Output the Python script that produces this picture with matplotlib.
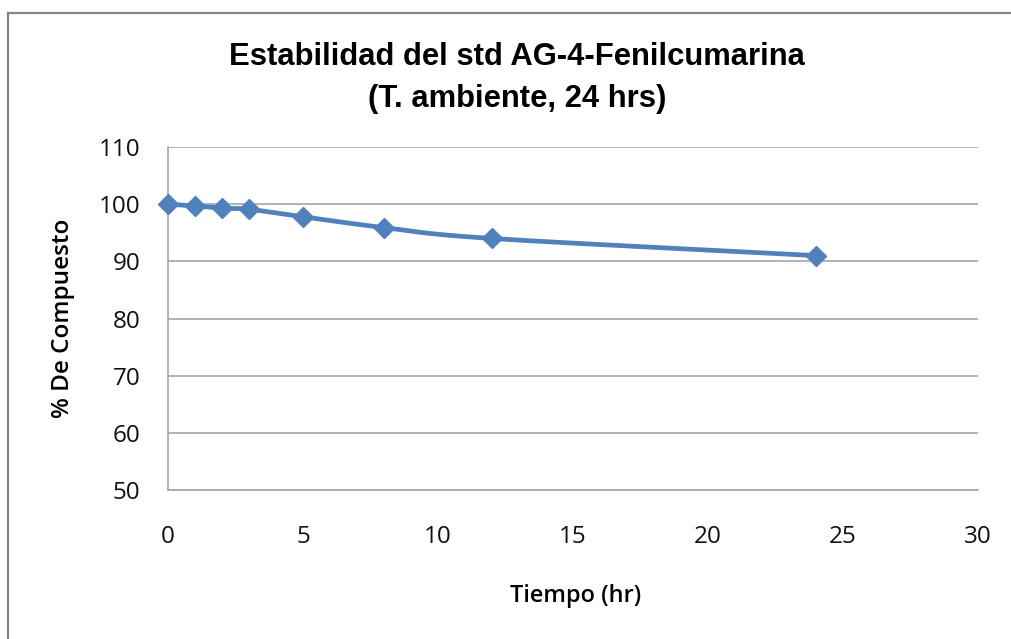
import numpy as np
import matplotlib
matplotlib.use("Agg")
import matplotlib.pyplot as plt
from matplotlib.lines import Line2D

# Stability data: time (hr) vs % compound remaining
tiempo_hr = [0, 1, 2, 3, 5, 8, 12, 24]
compuesto_pct = [100.0, 99.7, 99.3, 99.1, 97.8, 95.9, 94.0, 91.0]

x_ticks = [0, 5, 10, 15, 20, 25, 30]
y_ticks = [50, 60, 70, 80, 90, 100, 110]

titulo = "Estabilidad del std AG-4-Fenilcumarina\n(T. ambiente, 24 hrs)"
etiqueta_x = "Tiempo (hr)"
etiqueta_y = "% De Compuesto"

SERIES_COLOR = "#4F81BD"
GRID_COLOR = "#A6A6A6"
TICK_FONT = "Open Sans"


def smooth_curve(xs, ys, xlim, ylim, n=40):
    """Catmull-Rom smoothing through the points, done in normalised axes space."""
    px = (np.asarray(xs, float) - xlim[0]) / (xlim[1] - xlim[0])
    py = (np.asarray(ys, float) - ylim[0]) / (ylim[1] - ylim[0]) * 0.42
    pts = np.column_stack([px, py])
    ext = np.vstack([2 * pts[0] - pts[1], pts, 2 * pts[-1] - pts[-2]])
    out = []
    for i in range(1, len(ext) - 2):
        p0, p1, p2, p3 = ext[i - 1], ext[i], ext[i + 1], ext[i + 2]
        t = np.linspace(0, 1, n)[:, None]
        seg = 0.5 * ((2 * p1) + (-p0 + p2) * t + (2 * p0 - 5 * p1 + 4 * p2 - p3) * t ** 2
                     + (-p0 + 3 * p1 - 3 * p2 + p3) * t ** 3)
        out.append(seg if i == 1 else seg[1:])
    out = np.vstack(out)
    sx = out[:, 0] * (xlim[1] - xlim[0]) + xlim[0]
    sy = out[:, 1] / 0.42 * (ylim[1] - ylim[0]) + ylim[0]
    return sx, sy


fig = plt.figure(figsize=(10.11, 6.39), dpi=100)
fig.patch.set_facecolor("white")

ax = fig.add_axes([168 / 1011, 1 - 490 / 639, (978 - 168) / 1011, (490 - 147) / 639])
xlim = (0, 30)
ylim = (50, 110)
ax.set_xlim(*xlim)
ax.set_ylim(*ylim)

sx, sy = smooth_curve(tiempo_hr, compuesto_pct, xlim, ylim)
ax.plot(sx, sy, color=SERIES_COLOR, lw=3.4, solid_capstyle="round", zorder=3, clip_on=False)
ax.plot(tiempo_hr, compuesto_pct, linestyle="none", marker="D", markersize=10.5,
        color=SERIES_COLOR, markeredgecolor=SERIES_COLOR, zorder=4, clip_on=False)

ax.set_xticks(x_ticks)
ax.set_yticks(y_ticks)
ax.grid(axis="y", color=GRID_COLOR, lw=1.2)
ax.set_axisbelow(True)
for side in ("top", "right"):
    ax.spines[side].set_visible(False)
for side in ("left", "bottom"):
    ax.spines[side].set_color(GRID_COLOR)
    ax.spines[side].set_linewidth(1.2)
ax.tick_params(axis="both", length=0, labelsize=17.5, labelcolor="#111111")
ax.tick_params(axis="x", pad=25)
ax.tick_params(axis="y", pad=20)
for lbl in ax.get_xticklabels() + ax.get_yticklabels():
    lbl.set_fontfamily(TICK_FONT)

fig.text(517 / 1011, 1 - 78 / 639, titulo, ha="center", va="center",
         fontsize=22.3, fontweight="bold", family="Liberation Sans", linespacing=1.5)
fig.text(576 / 1011, 1 - 596 / 639, etiqueta_x, ha="center", va="center",
         fontsize=17, fontweight="semibold", family=TICK_FONT)
fig.text(63 / 1011, 1 - 318 / 639, etiqueta_y, ha="center", va="center", rotation=90,
         fontsize=17.5, fontweight="semibold", family=TICK_FONT)

# Chart frame (top and left edges)
fig.add_artist(Line2D([8 / 1011, 1.0], [1 - 13 / 639] * 2, transform=fig.transFigure,
                      color="#868686", lw=1.6))
fig.add_artist(Line2D([8 / 1011] * 2, [0.0, 1 - 13 / 639], transform=fig.transFigure,
                      color="#868686", lw=1.6))

fig.savefig("out.png", dpi=100, facecolor="white")
